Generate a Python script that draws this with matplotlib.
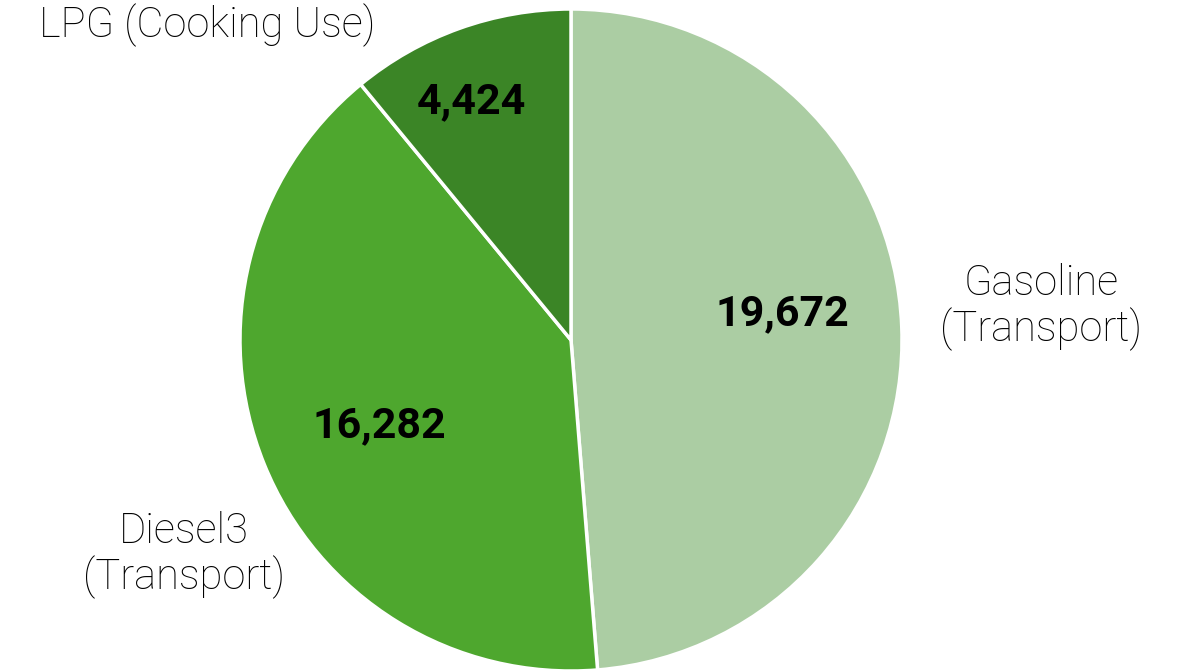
import matplotlib.pyplot as plt

plt.rcParams['font.family'] = ['Roboto', 'DejaVu Sans']

labels = ['Gasoline\n(Transport)', 'Diesel3\n(Transport)', 'LPG (Cooking Use)']
values = [19672, 16282, 4424]
colors = ['#abcda3', '#4ea72e', '#3b8526']

# label positions (in pie radius units)
label_pos = [(1.42, 0.10), (-1.17, -0.65), (-1.10, 0.95)]
value_pos = [(0.64, 0.08), (-0.58, -0.26), (-0.30, 0.72)]

fig = plt.figure(figsize=(11.8, 6.72), dpi=100)
ax = fig.add_axes([240 / 1180, 1 / 672, 662 / 1180, 662 / 672])

ax.pie(values, colors=colors, startangle=90, counterclock=False,
       wedgeprops=dict(edgecolor='white', linewidth=2.5))

for lab, (x, y) in zip(labels, label_pos):
    ax.text(x, y, lab, ha='center', va='center', fontsize=30,
            fontweight='light', linespacing=1.1, color='black')

for v, (x, y) in zip(values, value_pos):
    ax.text(x, y, f'{v:,}', ha='center', va='center', fontsize=31,
            fontweight='bold', color='black')

ax.set_xlim(-1, 1)
ax.set_ylim(-1, 1)
ax.set_aspect('equal')
ax.axis('off')

fig.savefig('out.png', dpi=100)
